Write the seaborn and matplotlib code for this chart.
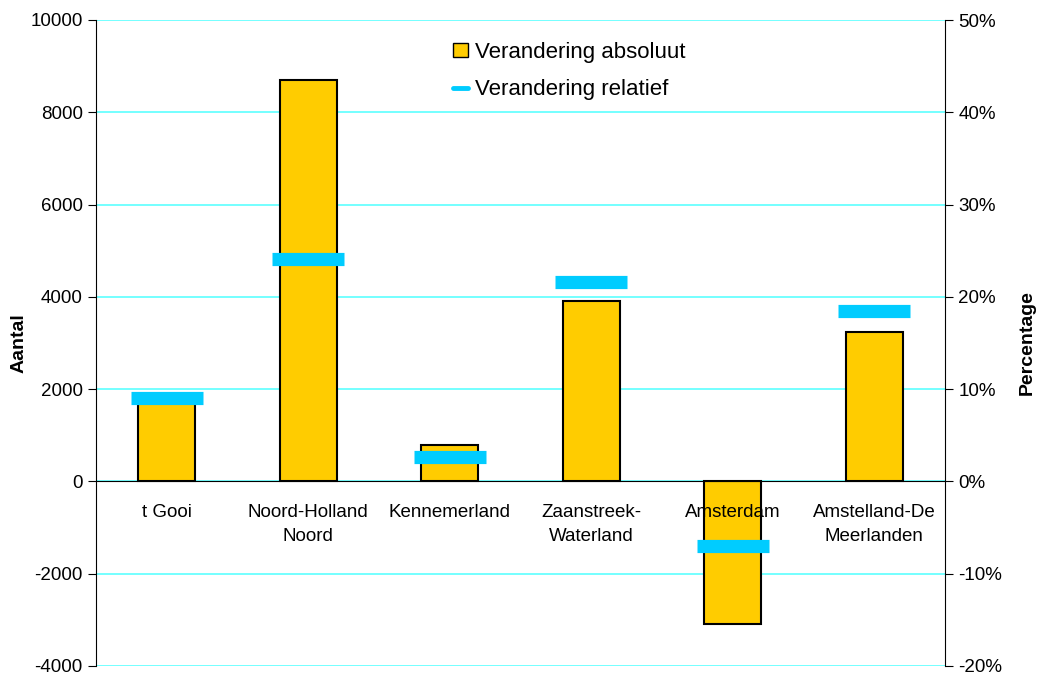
import matplotlib
matplotlib.use('Agg')
import pandas as pd
import matplotlib.pyplot as plt
import seaborn as sns
from matplotlib.patches import Patch
from matplotlib.lines import Line2D
from matplotlib.ticker import FuncFormatter

regios = ['t Gooi', 'Noord-Holland\nNoord', 'Kennemerland', 'Zaanstreek-\nWaterland',
          'Amsterdam', 'Amstelland-De\nMeerlanden']
absoluut = [1750, 8700, 800, 3900, -3080, 3230]
relatief = [9.0, 24.1, 2.7, 21.6, -7.0, 18.5]

df = pd.DataFrame({'Regio': regios, 'Absoluut': absoluut, 'Relatief': relatief})

sns.set_style('white')
plt.rcParams['font.family'] = ['Liberation Sans', 'DejaVu Sans']
plt.rcParams['axes.unicode_minus'] = False
plt.rcParams['text.color'] = 'black'
plt.rcParams['xtick.color'] = 'black'
plt.rcParams['ytick.color'] = 'black'
plt.rcParams['axes.labelcolor'] = 'black'

geel = '#FFCC00'
blauw = '#00CCFF'
grid = '#5CFFFF'

fig = plt.figure(figsize=(10.37, 6.75), dpi=100)
ax = fig.add_axes([96/1037, 1 - 666/675, (945 - 96)/1037, (666 - 20)/675])

sns.barplot(data=df, x='Regio', y='Absoluut', color=geel, edgecolor='black',
            linewidth=1.5, width=0.4, saturation=1, ax=ax, zorder=1)
ax.set_axisbelow(False)  # labels boven de balken
ax.set_ylim(-4000, 10000)
ax.set_xlim(-0.5, 5.5)
ax.set_yticks(range(-4000, 10001, 2000))
for y in range(-4000, 10001, 2000):
    ax.axhline(y, color=grid, lw=1.2, zorder=0)

ax2 = ax.twinx()
sns.scatterplot(data=df, x='Regio', y='Relatief', marker='_', s=52**2, linewidth=9.5,
                color=blauw, ax=ax2, zorder=4, legend=False)
ax2.set_ylim(-20, 50)
ax2.set_yticks(range(-20, 51, 10))
ax2.yaxis.set_major_formatter(FuncFormatter(lambda v, p: f'{v:.0f}%'))
ax2.set_xlim(-0.5, 5.5)

# spines
for a in (ax, ax2):
    for s in a.spines.values():
        s.set_visible(False)
ax.spines['left'].set_visible(True)
ax.spines['left'].set_color('black')
ax.spines['bottom'].set_visible(True)
ax.spines['bottom'].set_position(('data', 0))
ax.spines['bottom'].set_color('black')
ax2.spines['right'].set_visible(True)
ax2.spines['right'].set_color('black')

ax.tick_params(axis='x', which='major', length=0, labelsize=13.5, pad=16)
for lab in ax.get_xticklabels():
    lab.set_linespacing(1.6)
ax.set_xticks([0.5, 1.5, 2.5, 3.5, 4.5], minor=True)
ax.tick_params(axis='x', which='minor', length=6, direction='out', color='black')
ax.tick_params(axis='y', length=6, direction='out', color='black', labelsize=13.5, left=True)
ax2.tick_params(axis='y', length=6, direction='out', color='black', labelsize=13.5, right=True)

ax.set_xlabel('')
ax.set_ylabel('Aantal', fontsize=14, fontweight='bold', labelpad=2)
ax2.set_ylabel('Percentage', fontsize=14, fontweight='bold', labelpad=12)

handles = [Patch(facecolor=geel, edgecolor='black', linewidth=1),
           Line2D([0], [0], color=blauw, lw=3.5)]
fig.legend(handles, ['Verandering absoluut', 'Verandering relatief'],
           loc='upper left', bbox_to_anchor=(442/1037, 1 - 31/675), frameon=False,
           fontsize=16, handlelength=0.68, handleheight=0.6, handletextpad=0.3,
           labelspacing=0.72, borderpad=0)

fig.savefig('out.png', dpi=100)
